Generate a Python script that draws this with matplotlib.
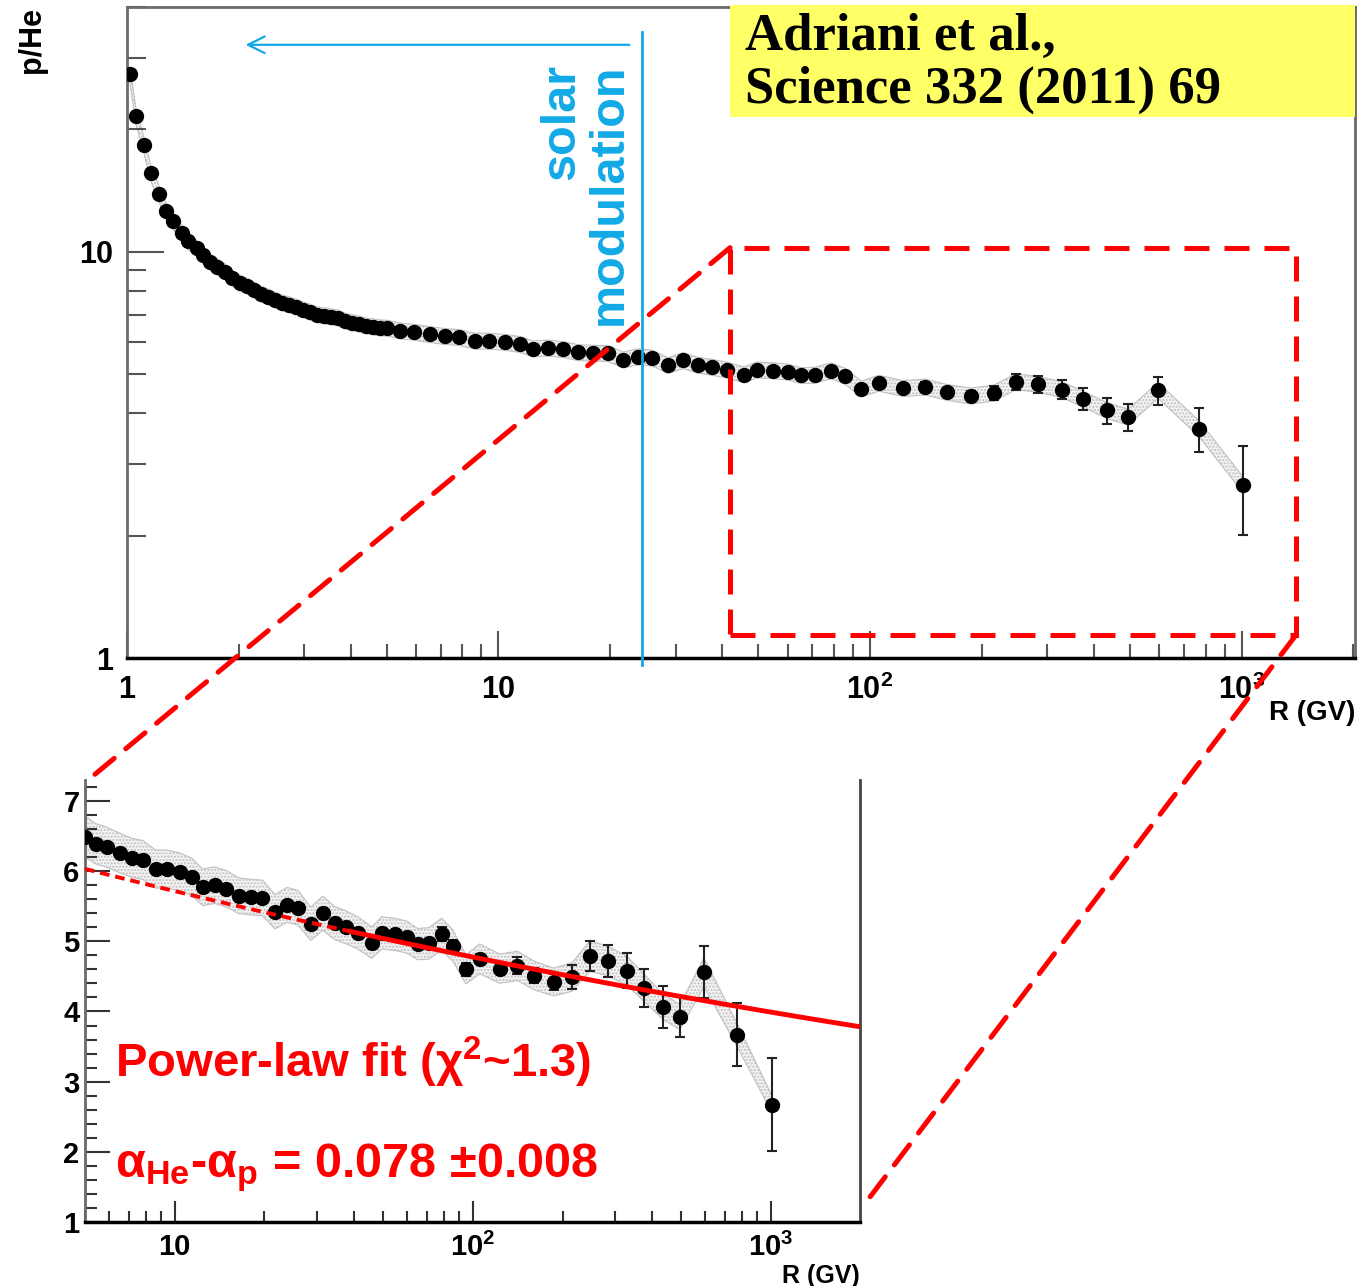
import numpy as np
import matplotlib
matplotlib.use("Agg")
import matplotlib.pyplot as plt
from matplotlib.patches import Rectangle, ConnectionPatch
from matplotlib.ticker import FixedLocator, NullFormatter, LogLocator, MultipleLocator

plt.rcParams['font.family'] = ['Liberation Sans', 'DejaVu Sans']
plt.rcParams['font.weight'] = 'bold'
plt.rcParams['mathtext.fontset'] = 'custom'
plt.rcParams['mathtext.rm'] = 'Liberation Sans:bold'
plt.rcParams['mathtext.bf'] = 'Liberation Sans:bold'
plt.rcParams['mathtext.it'] = 'Liberation Sans:bold:italic'
plt.rcParams['mathtext.default'] = 'bf'

# p/He ratio, low rigidity part (only shown in the full-range panel)
low_r = [1.019, 1.057, 1.111, 1.16, 1.219, 1.273, 1.33, 1.406, 1.46, 1.54,
         1.60, 1.67, 1.75, 1.84, 1.92, 2.01, 2.10, 2.20, 2.29, 2.40,
         2.50, 2.61, 2.73, 2.85, 2.98, 3.11, 3.25, 3.39, 3.54, 3.70,
         3.86, 4.03, 4.21, 4.40, 4.59, 4.80]
low_ratio = [27.3, 21.6, 18.3, 15.6, 13.9, 12.6, 11.9, 11.1, 10.6, 10.2,
             9.83, 9.45, 9.18, 8.93, 8.63, 8.39, 8.25, 8.06, 7.88, 7.75,
             7.62, 7.49, 7.41, 7.32, 7.20, 7.11, 7.00, 6.96, 6.92, 6.88,
             6.76, 6.69, 6.65, 6.57, 6.54, 6.50]

# p/He ratio above 5 GV (both panels)
hi_r = [5.02, 5.43, 5.92, 6.54, 7.17, 7.81, 8.63, 9.40, 10.4, 11.4,
        12.4, 13.6, 14.9, 16.4, 18.0, 19.7, 21.7, 23.8, 25.9, 28.6,
        31.4, 34.4, 37.5, 41.1, 45.8, 49.5, 54.7, 60.1, 65.3, 71.1,
        78.6, 85.7, 94.8, 105.5, 123, 141, 161, 187, 215, 247,
        284, 329, 375, 434, 495, 596, 769, 1010]
hi_ratio = [6.49, 6.39, 6.34, 6.26, 6.19, 6.16, 6.03, 6.03, 5.99, 5.92,
            5.77, 5.80, 5.75, 5.65, 5.63, 5.62, 5.42, 5.52, 5.48, 5.25,
            5.40, 5.26, 5.20, 5.12, 4.98, 5.12, 5.10, 5.06, 4.96, 4.97,
            5.10, 4.94, 4.60, 4.75, 4.61, 4.65, 4.51, 4.42, 4.49, 4.79,
            4.72, 4.58, 4.34, 4.07, 3.92, 4.56, 3.67, 2.67]
hi_stat = [0.03] * 23 + [0.04] * 7 + [
    0.10, 0.08, 0.09, 0.07, 0.07, 0.12, 0.11, 0.12, 0.17, 0.21,
    0.23, 0.25, 0.27, 0.30, 0.29, 0.37, 0.45, 0.66]

SYS_FRAC = 0.045          # relative systematic uncertainty (band)
FIT_NORM = 6.84           # power-law fit  A * R^-(aHe - ap)
FIT_INDEX = 0.078
FIT_MIN, FIT_SOLID, FIT_MAX = 5.0, 38.7, 2000.0
SOLAR_R = 24.3

all_r = np.array(low_r + hi_r)
all_ratio = np.array(low_ratio + hi_ratio)
all_stat = np.array([0.0] * len(low_r) + hi_stat)

BLUE = '#12a9e6'
RED = '#ff0000'

fig = plt.figure(figsize=(13.68, 12.86), dpi=100)
ax = fig.add_axes([0.0928, 0.4883, 0.8977, 0.5062])
ins = fig.add_axes([0.0621, 0.0498, 0.5666, 0.3437])


def draw_series(a, r, ratio, stat):
    r = np.asarray(r)
    ratio = np.asarray(ratio)
    a.fill_between(r, ratio * (1 - SYS_FRAC), ratio * (1 + SYS_FRAC),
                   facecolor='#f3f3f3', edgecolor='#c0c0c0', hatch='.....',
                   linewidth=0.8, zorder=1)
    a.errorbar(r, ratio, yerr=stat, fmt='o', ms=10, color='black',
               ecolor='#222222', elinewidth=1.5, capsize=3.5, capthick=1.5,
               zorder=3)


# ---- full range panel ----
draw_series(ax, all_r, all_ratio, all_stat)
ax.set_xscale('log')
ax.set_yscale('log')
ax.set_xlim(1, 2020)
ax.set_ylim(1, 40)
ax.xaxis.set_major_locator(FixedLocator([1, 10, 100, 1000]))
ax.set_xticklabels(['1', '10', '$10^{2}$', '$10^{3}$'])
ax.xaxis.set_minor_locator(LogLocator(base=10, subs=np.arange(2, 10), numticks=20))
ax.xaxis.set_minor_formatter(NullFormatter())
ax.yaxis.set_major_locator(FixedLocator([1, 10]))
ax.set_yticklabels(['1', '10'])
ax.yaxis.set_minor_locator(LogLocator(base=10, subs=np.arange(2, 10), numticks=20))
ax.yaxis.set_minor_formatter(NullFormatter())
ax.tick_params(which='both', direction='in', top=False, right=False,
               color='#555555', width=1.5, labelsize=22)
ax.tick_params(axis='y', which='major', length=26.6, pad=10)
ax.tick_params(axis='y', which='minor', length=13.7)
ax.tick_params(axis='x', which='major', length=19.4, pad=12)
ax.tick_params(axis='x', which='minor', length=10)
for s in ['left', 'top', 'right']:
    ax.spines[s].set_color('#6a6a6a')
    ax.spines[s].set_linewidth(2)
ax.spines['bottom'].set_color('black')
ax.spines['bottom'].set_linewidth(2.5)
ax.text(1.0, -0.064, 'R (GV)', transform=ax.transAxes, ha='right', va='top',
        fontsize=20)
fig.text(0.0234, 0.969, 'p/He', rotation=90, ha='center', va='center',
         fontsize=22)

# solar modulation marker
ax.plot([SOLAR_R, SOLAR_R], [0.96, 34.8], color=BLUE, lw=2, clip_on=False,
        zorder=4)
ax.annotate('', xy=(2.05, 32.3), xytext=(22.9, 32.3),
            arrowprops=dict(arrowstyle='->,head_length=0.6,head_width=0.3',
                            color=BLUE, lw=1.6, mutation_scale=20))
ax.text(14.8, 29.0, 'solar', rotation=90, ha='center', va='top',
        color=BLUE, fontsize=35)
ax.text(19.9, 29.0, 'modulation', rotation=90, ha='center', va='top',
        color=BLUE, fontsize=35)

# reference box
fig.add_artist(Rectangle((0.5336, 0.9090), 0.4569, 0.0871,
                         transform=fig.transFigure, facecolor='#ffff66',
                         edgecolor='none', zorder=5))
fig.text(0.5446, 0.9611, 'Adriani et al.,', family='Liberation Serif',
         fontsize=38, va='baseline', zorder=6)
fig.text(0.5446, 0.9199, 'Science 332 (2011) 69', family='Liberation Serif',
         fontsize=38, va='baseline', zorder=6)

# ---- zoomed panel ----
draw_series(ins, hi_r, hi_ratio, hi_stat)
fit_r_dash = np.geomspace(FIT_MIN, FIT_SOLID, 50)
fit_r_solid = np.geomspace(FIT_SOLID, FIT_MAX, 100)
ins.plot(fit_r_dash, FIT_NORM * fit_r_dash ** -FIT_INDEX, color=RED, lw=2.8,
         dashes=(2.5, 1.5), zorder=4)
ins.plot(fit_r_solid, FIT_NORM * fit_r_solid ** -FIT_INDEX, color=RED, lw=3.5,
         zorder=4)
ins.set_xscale('log')
ins.set_xlim(5, 1990)
ins.set_ylim(1, 7.3)
ins.xaxis.set_major_locator(FixedLocator([10, 100, 1000]))
ins.set_xticklabels(['10', '$10^{2}$', '$10^{3}$'])
ins.xaxis.set_minor_locator(LogLocator(base=10, subs=np.arange(2, 10), numticks=20))
ins.xaxis.set_minor_formatter(NullFormatter())
ins.yaxis.set_major_locator(MultipleLocator(1))
ins.yaxis.set_minor_locator(MultipleLocator(0.2))
ins.tick_params(which='both', direction='in', top=False, right=False,
                color='#333333', width=1.5, labelsize=21)
ins.tick_params(axis='y', which='major', length=18, pad=4)
ins.tick_params(axis='y', which='minor', length=8.6)
ins.tick_params(axis='x', which='major', length=15, pad=8)
ins.tick_params(axis='x', which='minor', length=8)
ins.spines['top'].set_visible(False)
ins.spines['left'].set_color('#6a6a6a')
ins.spines['left'].set_linewidth(2)
ins.spines['right'].set_color('#444444')
ins.spines['right'].set_linewidth(2)
ins.spines['bottom'].set_color('black')
ins.spines['bottom'].set_linewidth(2.5)
ins.text(1.0, -0.094, 'R (GV)', transform=ins.transAxes, ha='right', va='top',
         fontsize=18)
ins.text(0.039, 0.326, r'Power-law fit ($\chi^{2}$~1.3)', transform=ins.transAxes,
         color=RED, fontsize=34, va='baseline', zorder=6)
ins.text(0.039, 0.102, r'$\alpha_{He}$-$\alpha_{p}$ = 0.078 ±0.008',
         transform=ins.transAxes, color=RED, fontsize=35, va='baseline', zorder=6)

# zoom frame and connectors
zoom_x0, zoom_x1, zoom_y0, zoom_y1 = 42.0, 1402.0, 1.14, 10.23
dash = (0, (5, 3))
ax.add_patch(Rectangle((zoom_x0, zoom_y0), zoom_x1 - zoom_x0, zoom_y1 - zoom_y0,
                       fill=False, edgecolor=RED, lw=3.6, linestyle=dash,
                       clip_on=False, zorder=6))
for xyA, xyB in [((zoom_x0, zoom_y1), (0.0103, 1.009)),
                 ((zoom_x1, zoom_y0), (1.013, 0.057))]:
    con = ConnectionPatch(xyA=xyA, coordsA=ax.transData, xyB=xyB,
                          coordsB=ins.transAxes, color=RED, lw=3.6,
                          linestyle=dash, zorder=7)
    fig.add_artist(con)

fig.savefig('out.png', dpi=100)
